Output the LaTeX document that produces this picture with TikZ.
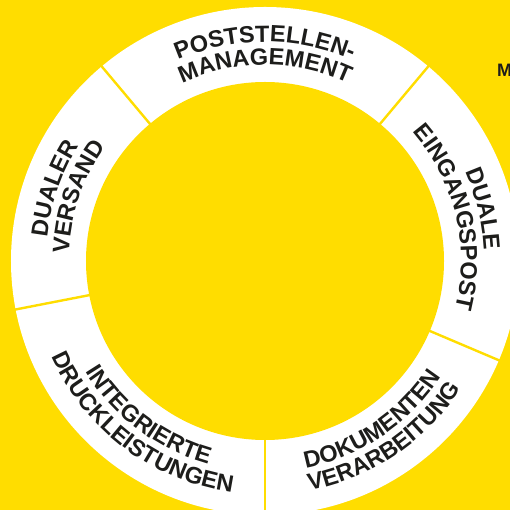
\documentclass[tikz,border=0pt]{standalone}
\usepackage{fontspec}
\setmainfont{Liberation Sans}
\usepackage{tikz}
\usetikzlibrary{decorations.text}
\definecolor{postgelb}{HTML}{FFDD00}
\definecolor{schrift}{HTML}{1D1D1B}
\newcommand{\ringfont}{\bfseries\fontsize{23.5}{23.5}\selectfont}

\begin{document}
\begin{tikzpicture}[
    trenner/.style={draw=postgelb,line width=2.4pt},
    ringtext/.style={decorate,decoration={text along path,text align=center,
      text color=schrift,text={|\ringfont|#1}}}]
  \useasboundingbox[fill=postgelb] (-265pt,-249pt) rectangle (245pt,261pt);
  \coordinate (mitte) at (0,0);
  \fill[white] (mitte) circle[radius=254pt];
  \fill[postgelb] (mitte) circle[radius=179pt];
  \foreach \w in {50,130,191,270,337}
    \draw[trenner] (\w:176pt) -- (\w:257pt);
  \path[ringtext={POSTSTELLEN-}] (160:219pt) arc[start angle=160,end angle=20,radius=219pt];
  \path[ringtext={MANAGEMENT}] (160:196pt) arc[start angle=160,end angle=20,radius=196pt];
  \path[ringtext={DUALE}] (83.5:219pt) arc[start angle=83.5,end angle=-56.5,radius=219pt];
  \path[ringtext={EINGANGSPOST}] (83.5:196pt) arc[start angle=83.5,end angle=-56.5,radius=196pt];
  \path[ringtext={DUALER}] (231:219pt) arc[start angle=231,end angle=91,radius=219pt];
  \path[ringtext={VERSAND}] (231:196pt) arc[start angle=231,end angle=91,radius=196pt];
  \path[ringtext={INTEGRIERTE}] (163:211pt) arc[start angle=163,end angle=303,radius=211pt];
  \path[ringtext={DRUCKLEISTUNGEN}] (163:234pt) arc[start angle=163,end angle=303,radius=234pt];
  \path[ringtext={DOKUMENTEN}] (234:211pt) arc[start angle=234,end angle=374,radius=211pt];
  \path[ringtext={VERARBEITUNG}] (234:234pt) arc[start angle=234,end angle=374,radius=234pt];
  \node[anchor=base west,inner sep=0pt,text=schrift,
    font=\bfseries\fontsize{18}{18}\selectfont] (rand) at (232pt,184pt) {M};
\end{tikzpicture}
\end{document}
